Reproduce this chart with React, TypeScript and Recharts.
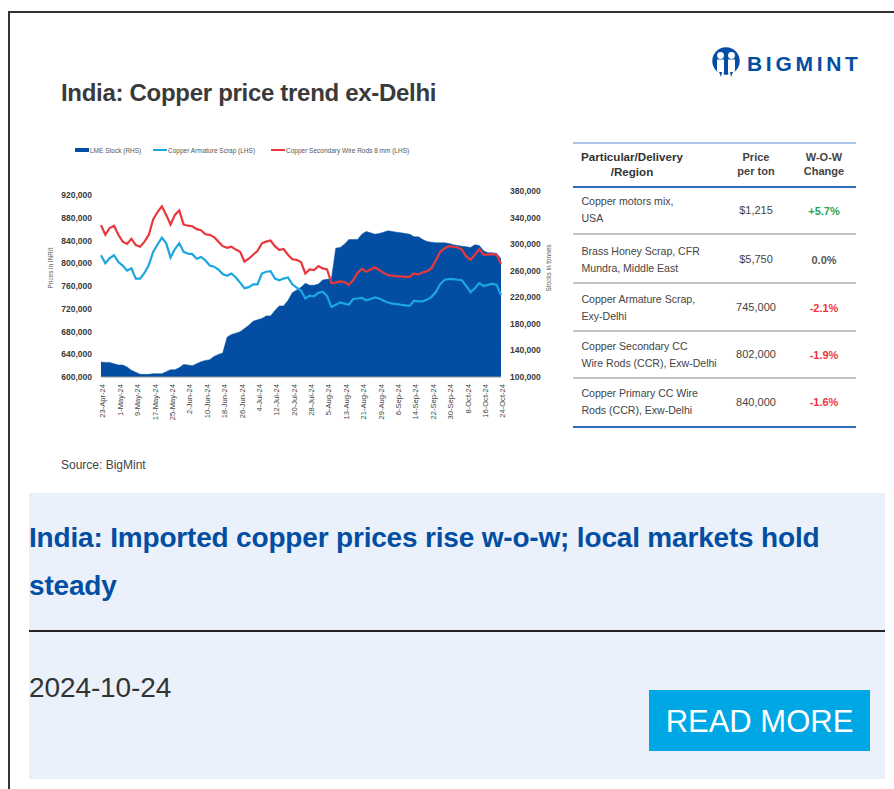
import React from "react";
import { ComposedChart, Area, Line, XAxis, YAxis, Legend } from "recharts";

const dates = ["23-Apr-24","25-Apr-24","27-Apr-24","29-Apr-24","1-May-24","3-May-24","5-May-24","7-May-24","9-May-24","11-May-24","13-May-24","15-May-24","17-May-24","19-May-24","21-May-24","23-May-24","25-May-24","27-May-24","29-May-24","31-May-24","2-Jun-24","4-Jun-24","6-Jun-24","8-Jun-24","10-Jun-24","12-Jun-24","14-Jun-24","16-Jun-24","18-Jun-24","20-Jun-24","22-Jun-24","24-Jun-24","26-Jun-24","28-Jun-24","30-Jun-24","2-Jul-24","4-Jul-24","6-Jul-24","8-Jul-24","10-Jul-24","12-Jul-24","14-Jul-24","16-Jul-24","18-Jul-24","20-Jul-24","22-Jul-24","24-Jul-24","26-Jul-24","28-Jul-24","30-Jul-24","1-Aug-24","3-Aug-24","5-Aug-24","7-Aug-24","9-Aug-24","11-Aug-24","13-Aug-24","15-Aug-24","17-Aug-24","19-Aug-24","21-Aug-24","23-Aug-24","25-Aug-24","27-Aug-24","29-Aug-24","31-Aug-24","2-Sep-24","4-Sep-24","6-Sep-24","8-Sep-24","10-Sep-24","12-Sep-24","14-Sep-24","16-Sep-24","18-Sep-24","20-Sep-24","22-Sep-24","24-Sep-24","26-Sep-24","28-Sep-24","30-Sep-24","2-Oct-24","4-Oct-24","6-Oct-24","8-Oct-24","10-Oct-24","12-Oct-24","14-Oct-24","16-Oct-24","18-Oct-24","20-Oct-24","22-Oct-24","24-Oct-24"];

// thousands of INR/t
const wireRods = [867,850,862,866,850,838,834,843,832,829,838,850,877,890,900,885,868,885,893,868,866,865,860,858,851,850,846,838,830,827,829,824,820,803,808,815,822,835,838,840,830,823,825,815,807,806,802,782,789,788,795,791,789,765,766,768,767,762,770,783,790,785,789,793,788,783,779,778,777,777,776,776,782,780,784,786,791,805,820,826,830,829,828,824,812,806,815,825,815,815,816,815,799];
const armatureScrap = [814,800,809,814,802,796,787,791,773,773,783,797,820,833,845,835,810,825,835,820,817,816,808,811,805,796,794,789,781,778,782,775,766,756,758,763,763,782,785,786,773,770,773,775,763,757,752,738,743,742,748,750,742,723,727,731,729,727,737,738,739,735,737,740,738,734,731,729,728,727,726,725,734,733,733,736,741,749,763,771,772,772,771,770,760,749,756,765,760,762,764,762,744];
// thousands of tonnes
const lmeStock = [122.5,122,122,120,118,118,115,110,107,104,104,104,105,105,105,108,111,111,114,119,118,117,120,123,125,126,131,134,136,160,164,166,168,173,178,184,186,188,192,192,200,207,207,215,227,231,235,241,238,238,240,246,247,248,294,295,300,307,307,307,315,319,317,315,316,318,320,319,318,317,316,315,311,311,307,304,303,302,302,302,301,299,298,297,296,295,299,298,290,287,287,286,278];

const leftTicks = [600000,640000,680000,720000,760000,800000,840000,880000,920000];
const rightTicks = [100000,140000,180000,220000,260000,300000,340000,380000];

const tableHeaders = ["Particular/Delivery\n/Region", "Price\nper ton", "W-O-W\nChange"];
const tableItems = ["Copper motors mix,\nUSA", "Brass Honey Scrap, CFR\nMundra, Middle East", "Copper Armature Scrap,\nExy-Delhi", "Copper Secondary CC\nWire Rods (CCR), Exw-Delhi", "Copper Primary CC Wire\nRods (CCR), Exw-Delhi"];
const tablePrices = ["$1,215", "$5,750", "745,000", "802,000", "840,000"];
const tableChanges = ["+5.7%", "0.0%", "-2.1%", "-1.9%", "-1.6%"];

const chartData = dates.map((date, i) => ({
  date,
  stock: lmeStock[i] * 1000,
  scrap: armatureScrap[i] * 1000,
  rods: wireRods[i] * 1000,
}));

const FONT = "'Liberation Sans', Arial, sans-serif";
const BLUE = "#034ea2";
const fmt = (v: number) => v.toLocaleString("en-US");

const abs = (left: number, top: number, extra: React.CSSProperties = {}): React.CSSProperties => ({
  position: "absolute", left, top, fontFamily: FONT, whiteSpace: "pre", ...extra,
});

const LegendContent = ({ payload }: any) => {
  const lefts = [75, 153, 271];
  return (
    <div style={{ position: "relative", height: 12 }}>
      {(payload || []).map((p: any, i: number) => (
        <div key={p.value} style={{ position: "absolute", left: lefts[i] - 40, top: 0, display: "flex", alignItems: "center", height: 12, fontFamily: FONT, fontSize: 6.5, color: "#555" }}>
          <span style={{ width: 14, height: i === 0 ? 4 : 2, background: p.color, marginRight: 1, display: "inline-block" }} />
          <span style={{ whiteSpace: "pre" }}>{p.value}</span>
        </div>
      ))}
    </div>
  );
};

const changeColor = (c: string) => (c.startsWith("+") ? "#1fa855" : c.startsWith("-") ? "#ee3340" : "#555");

const itemCenters = [210, 259.5, 307.5, 354.5, 401.5];
const priceCenters = [210, 259, 307, 354, 402];
const changeCenters = [211, 260, 308, 355, 402];

export default function App() {
  return (
    <div style={{ position: "absolute", left: 0, top: 0, width: 894, height: 789, background: "#fff", overflow: "hidden" }}>
      <div style={{ position: "absolute", left: 8, top: 11, width: 886, height: 778, borderTop: "2px solid #333", borderLeft: "2px solid #333", boxSizing: "border-box" }} />

      <div style={abs(61, 78, { fontSize: 24, letterSpacing: -0.3, fontWeight: 700, color: "#3a3a3a", lineHeight: "30px" })}>India: Copper price trend ex-Delhi</div>

      <svg style={{ position: "absolute", left: 711, top: 46 }} width="30" height="32" viewBox="0 0 30 32">
        <circle cx="15" cy="15" r="13.7" fill={BLUE} />
        <circle cx="9.5" cy="9.5" r="3.4" fill="#fff" />
        <circle cx="20.5" cy="9.5" r="3.4" fill="#fff" />
        <path d="M6 13.5 L13 13.5 L13 26 L12 31 L8 31 L6 24 Z" fill="#fff" />
        <path d="M17 13.5 L24 13.5 L24 24 L22 31 L18 31 L17 26 Z" fill="#fff" />
        <path d="M13 26 L15 22 L17 26 L17 29 L13 29 Z" fill={BLUE} />
        <rect x="0" y="28.7" width="30" height="4" fill="#fff" />
        <path d="M8 26 L10 31 L11 26 Z M19 26 L20 31 L22 26 Z" fill={BLUE} />
      </svg>
      <div style={abs(747, 52, { fontSize: 21, fontWeight: 700, color: BLUE, letterSpacing: 3.7, lineHeight: "24px" })}>BIGMINT</div>

      <div style={{ position: "absolute", left: 40, top: 140 }}>
        <ComposedChart width={520} height={300} data={chartData} margin={{ top: 39, right: 5, bottom: 3, left: 5 }}>
          <Legend verticalAlign="top" align="left" height={12} itemSorter={null} wrapperStyle={{ top: 4, left: 0, width: 520 }} content={<LegendContent />} />
          <XAxis dataKey="date" interval={3} height={60} angle={-90} textAnchor="end" tickLine={false} tickMargin={1} axisLine={{ stroke: "#9a9a9a", strokeWidth: 1 }} tick={{ fontSize: 7.6, fontFamily: FONT, fill: "#444", dx: -1 }} />
          <YAxis yAxisId="left" domain={[600000, 927000]} ticks={leftTicks} allowDataOverflow width={56} axisLine={false} tickLine={false} tickFormatter={fmt} tickMargin={3}
            tick={{ fontSize: 8.5, fontFamily: FONT, fontWeight: 700, fill: "#3a3a3a" }}
            label={{ value: "Prices in INR/t", angle: -90, position: "insideLeft", offset: 6, dy: -16, style: { fontSize: 6.4, fontFamily: FONT, fill: "#555", textAnchor: "middle" } }} />
          <YAxis yAxisId="right" orientation="right" domain={[100000, 380000]} ticks={rightTicks} allowDataOverflow width={54} axisLine={false} tickLine={false} tickFormatter={fmt} tickMargin={3}
            tick={{ fontSize: 8.5, fontFamily: FONT, fontWeight: 700, fill: "#3a3a3a" }}
            label={{ value: "Stocks in tonnes", angle: -90, position: "insideRight", offset: 6, dy: -16, style: { fontSize: 6.4, fontFamily: FONT, fill: "#555", textAnchor: "middle" } }} />
          <Area yAxisId="right" dataKey="stock" name="LME Stock (RHS)" type="linear" stroke={BLUE} strokeWidth={0.5} fill={BLUE} fillOpacity={1} dot={false} activeDot={false} isAnimationActive={false} />
          <Line yAxisId="left" dataKey="scrap" name="Copper Armature Scrap (LHS)" type="linear" stroke="#1ba6e0" strokeWidth={2.2} dot={false} activeDot={false} isAnimationActive={false} />
          <Line yAxisId="left" dataKey="rods" name="Copper Secondary Wire Rods 8 mm (LHS)" type="linear" stroke="#e8383c" strokeWidth={2.2} dot={false} activeDot={false} isAnimationActive={false} />
        </ComposedChart>
      </div>

      {/* table */}
      <div style={{ position: "absolute", left: 573, top: 142, width: 283, height: 2, background: "#a9c4e6" }} />
      <div style={{ position: "absolute", left: 573, top: 186, width: 283, height: 2, background: "#2f6db8" }} />
      {[233, 282, 330, 377].map((y) => (
        <div key={y} style={{ position: "absolute", left: 573, top: y, width: 283, height: 1.5, background: "#c4c4c4" }} />
      ))}
      <div style={{ position: "absolute", left: 573, top: 426, width: 283, height: 2, background: "#2f6db8" }} />

      <div style={abs(581, 150, { width: 102, textAlign: "center", fontSize: 11.6, fontWeight: 700, color: "#333", lineHeight: "14.6px" })}>{tableHeaders[0]}</div>
      <div style={abs(726, 151, { width: 60, textAlign: "center", fontSize: 11, fontWeight: 700, color: "#444", lineHeight: "13.6px" })}>{tableHeaders[1]}</div>
      <div style={abs(794, 151, { width: 60, textAlign: "center", fontSize: 11, fontWeight: 700, color: "#444", lineHeight: "13.6px" })}>{tableHeaders[2]}</div>

      {tableItems.map((t, i) => (
        <React.Fragment key={t}>
          <div style={abs(581.5, itemCenters[i] - 17, { fontSize: 10.6, letterSpacing: -0.03, color: "#444", lineHeight: "17px" })}>{t}</div>
          <div style={abs(726, priceCenters[i] - 8, { width: 60, textAlign: "center", fontSize: 11, color: "#444", lineHeight: "16px" })}>{tablePrices[i]}</div>
          <div style={abs(794, changeCenters[i] - 8, { width: 60, textAlign: "center", fontSize: 11, fontWeight: 700, color: changeColor(tableChanges[i]), lineHeight: "16px" })}>{tableChanges[i]}</div>
        </React.Fragment>
      ))}

      <div style={abs(61, 458, { fontSize: 12, color: "#444", lineHeight: "14px" })}>Source: BigMint</div>

      <div style={{ position: "absolute", left: 29, top: 493, width: 856, height: 286, background: "#eaf1fa" }} />
      <div style={abs(29, 514, { fontSize: 28, letterSpacing: -0.18, fontWeight: 700, color: BLUE, lineHeight: "48px" })}>{"India: Imported copper prices rise w-o-w; local markets hold\nsteady"}</div>
      <div style={{ position: "absolute", left: 29, top: 630, width: 856, height: 2, background: "#222" }} />
      <div style={abs(29, 671, { fontSize: 28, letterSpacing: -0.1, color: "#333", lineHeight: "34px" })}>2024-10-24</div>
      <div style={{ position: "absolute", left: 649, top: 690, width: 221, height: 61, background: "#00a7e5" }} />
      <div style={abs(649, 691, { width: 221, textAlign: "center", fontSize: 31, color: "#fff", lineHeight: "61px" })}>READ MORE</div>
    </div>
  );
}
